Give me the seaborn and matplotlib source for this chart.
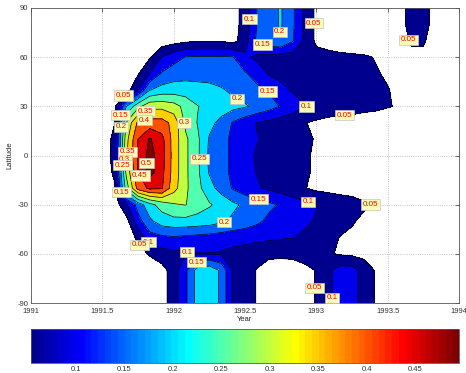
"""Stratospheric aerosol optical depth after Pinatubo: zonal-mean contour map.

Filled contour chart in the old MATLAB look (jet fills, labelled isolines,
horizontal colorbar underneath).
"""

import matplotlib

matplotlib.use("Agg")

import matplotlib.pyplot as plt
import numpy as np
import seaborn as sns
from matplotlib.cm import ScalarMappable
from matplotlib.colors import ListedColormap, Normalize


# monthly time axis (decimal year) and latitude rows
YEARS = [1991.5, 1991.583, 1991.667, 1991.75, 1991.833, 1991.917,
         1992.0, 1992.083, 1992.167, 1992.25, 1992.333, 1992.417,
         1992.5, 1992.583, 1992.667, 1992.75, 1992.833, 1992.917,
         1993.0, 1993.083, 1993.167, 1993.25, 1993.333, 1993.417,
         1993.5, 1993.583, 1993.667, 1993.75, 1993.833, 1993.917]
LATITUDES = [90, 80, 70, 60, 50, 40, 30, 20, 10, 0,
             -10, -20, -30, -40, -50, -60, -70, -80, -90]

# optical depth, one row per latitude (north to south), one value per month
AOD = [
    [0.02, 0.02, 0.02, 0.02, 0.02, 0.02, 0.02, 0.02, 0.02, 0.02, 0.02, 0.03, 0.07, 0.15, 0.18,
     0.205, 0.16, 0.09, 0.04, 0.02, 0.02, 0.02, 0.02, 0.02, 0.02, 0.03, 0.07, 0.07, 0.03, 0.02],
    [0.02, 0.02, 0.02, 0.02, 0.02, 0.02, 0.02, 0.02, 0.02, 0.02, 0.02, 0.03, 0.07, 0.15, 0.18,
     0.205, 0.16, 0.09, 0.04, 0.02, 0.02, 0.02, 0.02, 0.02, 0.02, 0.03, 0.07, 0.07, 0.03, 0.02],
    [0.02, 0.02, 0.02, 0.02, 0.02, 0.02, 0.03, 0.04, 0.045, 0.045, 0.045, 0.035, 0.075, 0.16, 0.18,
     0.198, 0.155, 0.09, 0.04, 0.03, 0.02, 0.02, 0.02, 0.02, 0.02, 0.03, 0.055, 0.055, 0.03, 0.02],
    [0.02, 0.02, 0.02, 0.02, 0.045, 0.102, 0.13, 0.152, 0.155, 0.155, 0.155, 0.152, 0.11, 0.09, 0.085,
     0.075, 0.075, 0.072, 0.068, 0.065, 0.062, 0.058, 0.055, 0.048, 0.04, 0.03, 0.04, 0.04, 0.02, 0.02],
    [0.02, 0.02, 0.02, 0.045, 0.102, 0.155, 0.175, 0.18, 0.18, 0.18, 0.175, 0.165, 0.155, 0.13, 0.095,
     0.085, 0.08, 0.075, 0.072, 0.07, 0.065, 0.062, 0.058, 0.053, 0.045, 0.035, 0.03, 0.025, 0.02, 0.02],
    [0.02, 0.02, 0.025, 0.098, 0.198, 0.22, 0.225, 0.225, 0.22, 0.215, 0.205, 0.19, 0.177, 0.162, 0.145,
     0.115, 0.095, 0.085, 0.08, 0.075, 0.07, 0.065, 0.06, 0.055, 0.052, 0.04, 0.03, 0.025, 0.02, 0.02],
    [0.01, 0.03, 0.198, 0.285, 0.335, 0.335, 0.32, 0.285, 0.252, 0.235, 0.225, 0.215, 0.205, 0.19, 0.17,
     0.147, 0.125, 0.102, 0.09, 0.08, 0.075, 0.07, 0.065, 0.06, 0.053, 0.045, 0.035, 0.03, 0.02, 0.02],
    [0.02, 0.048, 0.302, 0.41, 0.42, 0.42, 0.385, 0.29, 0.248, 0.215, 0.185, 0.145, 0.12, 0.098, 0.088,
     0.077, 0.065, 0.052, 0.042, 0.035, 0.03, 0.03, 0.025, 0.025, 0.02, 0.02, 0.02, 0.02, 0.02, 0.02],
    [0.03, 0.058, 0.33, 0.45, 0.505, 0.465, 0.38, 0.31, 0.26, 0.195, 0.165, 0.14, 0.12, 0.102, 0.092,
     0.082, 0.07, 0.058, 0.047, 0.04, 0.035, 0.03, 0.03, 0.025, 0.02, 0.02, 0.02, 0.02, 0.02, 0.02],
    [0.03, 0.06, 0.34, 0.455, 0.52, 0.47, 0.38, 0.31, 0.26, 0.19, 0.165, 0.14, 0.115, 0.095, 0.088,
     0.078, 0.065, 0.055, 0.045, 0.04, 0.035, 0.03, 0.03, 0.025, 0.02, 0.02, 0.02, 0.02, 0.02, 0.02],
    [0.03, 0.055, 0.31, 0.45, 0.52, 0.465, 0.38, 0.31, 0.26, 0.195, 0.165, 0.14, 0.118, 0.098, 0.09,
     0.08, 0.065, 0.055, 0.045, 0.04, 0.035, 0.03, 0.03, 0.025, 0.02, 0.02, 0.02, 0.02, 0.02, 0.02],
    [0.02, 0.045, 0.27, 0.42, 0.46, 0.455, 0.37, 0.31, 0.265, 0.22, 0.18, 0.145, 0.122, 0.105, 0.092,
     0.08, 0.065, 0.052, 0.04, 0.035, 0.03, 0.03, 0.025, 0.025, 0.02, 0.02, 0.02, 0.02, 0.02, 0.02],
    [0.01, 0.02, 0.09, 0.17, 0.235, 0.27, 0.295, 0.302, 0.275, 0.255, 0.235, 0.21, 0.19, 0.175, 0.16,
     0.145, 0.13, 0.115, 0.102, 0.09, 0.08, 0.07, 0.057, 0.045, 0.035, 0.03, 0.02, 0.02, 0.02, 0.02],
    [0.01, 0.01, 0.03, 0.13, 0.19, 0.225, 0.235, 0.235, 0.23, 0.225, 0.21, 0.19, 0.175, 0.16, 0.14,
     0.13, 0.12, 0.11, 0.095, 0.08, 0.07, 0.055, 0.04, 0.03, 0.02, 0.02, 0.02, 0.02, 0.02, 0.02],
    [0.02, 0.02, 0.02, 0.06, 0.13, 0.14, 0.145, 0.14, 0.135, 0.13, 0.125, 0.12, 0.12, 0.115, 0.11,
     0.105, 0.102, 0.09, 0.08, 0.065, 0.048, 0.04, 0.03, 0.02, 0.02, 0.02, 0.02, 0.02, 0.02, 0.02],
    [0.02, 0.02, 0.02, 0.03, 0.055, 0.08, 0.085, 0.095, 0.098, 0.098, 0.095, 0.085, 0.075, 0.065, 0.06,
     0.06, 0.06, 0.065, 0.065, 0.055, 0.045, 0.04, 0.035, 0.03, 0.02, 0.02, 0.02, 0.02, 0.02, 0.02],
    [0.02, 0.02, 0.02, 0.02, 0.02, 0.03, 0.075, 0.14, 0.22, 0.235, 0.19, 0.09, 0.07, 0.048, 0.03,
     0.025, 0.03, 0.04, 0.052, 0.09, 0.12, 0.12, 0.08, 0.045, 0.02, 0.02, 0.02, 0.02, 0.02, 0.02],
    [0.02, 0.02, 0.02, 0.02, 0.02, 0.03, 0.075, 0.14, 0.22, 0.235, 0.19, 0.09, 0.07, 0.048, 0.03,
     0.025, 0.03, 0.04, 0.052, 0.09, 0.12, 0.12, 0.08, 0.045, 0.02, 0.02, 0.02, 0.02, 0.02, 0.02],
    [0.02, 0.02, 0.02, 0.02, 0.02, 0.03, 0.075, 0.14, 0.22, 0.235, 0.19, 0.09, 0.07, 0.048, 0.03,
     0.025, 0.03, 0.04, 0.052, 0.09, 0.12, 0.12, 0.08, 0.045, 0.02, 0.02, 0.02, 0.02, 0.02, 0.02],
]

LEVELS = [0.05, 0.1, 0.15, 0.2, 0.25, 0.3, 0.35, 0.4, 0.45, 0.5]
CBAR_TICKS = [0.1, 0.15, 0.2, 0.25, 0.3, 0.35, 0.4, 0.45]
CBAR_LIMITS = (0.0535, 0.4955)

X_TICKS = [1991, 1991.5, 1992, 1992.5, 1993, 1993.5, 1994]
X_TICK_LABELS = ["1991", "1991.5", "1992", "1992.5", "1993", "1993.5", "1994"]
Y_TICKS = [-90, -60, -30, 0, 30, 60, 90]

# isoline labels: level and roughly where it sits (year, latitude)
LABEL_LEVELS = [0.1, 0.2, 0.15, 0.05, 0.05, 0.05, 0.15, 0.2,
                0.35, 0.4, 0.3, 0.2, 0.15, 0.1, 0.05, 0.35,
                0.3, 0.25, 0.5, 0.45, 0.25, 0.15, 0.2, 0.15,
                0.1, 0.05, 0.1, 0.05, 0.1, 0.15, 0.05, 0.1]
LABEL_YEARS = [1992.514, 1992.731, 1992.626, 1992.983, 1993.635, 1991.666, 1991.652, 1991.631,
               1991.813, 1991.799, 1992.058, 1992.444, 1992.626, 1992.941, 1993.200, 1991.687,
               1991.666, 1991.624, 1991.827, 1991.785, 1992.198, 1991.638, 1992.338, 1992.577,
               1992.941, 1993.432, 1991.813, 1991.729, 1992.093, 1992.170, 1992.794, 1993.116]
LABEL_LATS = [83.2, 75.3, 68.6, 80.8, 70.4, 35.7, 24.1, 17.4,
              25.3, 19.8, 19.8, 34.5, 36.3, 30.8, 24.7, 2.1,
              -2.5, -6.0, -4.6, -11.3, -2.1, -22.3, -36.3, -32.0,
              -28.4, -30.2, -53.4, -57.0, -58.2, -66.2, -80.8, -86.9]


def matlab_jet(n: int = 64) -> ListedColormap:
    """The classic MATLAB jet(n) table."""
    m = int(np.ceil(n / 4))
    u = np.concatenate([np.arange(1, m + 1) / m, np.ones(m - 1), np.arange(m, 0, -1) / m])
    g = int(np.ceil(m / 2)) - int(n % 4 == 1) + np.arange(1, len(u) + 1)
    table = np.zeros((n, 3))
    for channel, idx in ((0, g + m), (1, g), (2, g - m)):
        keep = (idx >= 1) & (idx <= n)
        table[idx[keep] - 1, channel] = u[keep]
    return ListedColormap(table, name="matlab_jet")


def label_isolines(ax, lines) -> None:
    """Put a boxed red label on the nearest point of the wanted isoline."""
    to_px = ax.transData
    to_data = ax.transData.inverted()
    for lv, year, lat in zip(LABEL_LEVELS, LABEL_YEARS, LABEL_LATS):
        i_level = LEVELS.index(lv)
        px, py = to_px.transform((year, lat))
        found = lines.find_nearest_contour(px, py, indices=[i_level], pixel=True)
        if found[0] is None:
            continue
        x, y = to_data.transform((found[3], found[4]))
        ax.text(x, y, f"{lv:g}", fontsize=5.8, color="red", ha="center", va="center",
                zorder=5,
                bbox=dict(facecolor="#fcfcb4", edgecolor="#c4c4c4", linewidth=0.5, pad=1.2))


def main() -> None:
    sns.set_style("white")
    plt.rcParams["font.family"] = ["Liberation Sans", "DejaVu Sans"]
    plt.rcParams["axes.unicode_minus"] = False

    cmap = matlab_jet(64)
    norm = Normalize(*CBAR_LIMITS)
    # MATLAB-style: each band takes the colour of its lower level
    fill_colors = [cmap(norm(lv)) for lv in LEVELS]

    grid_x, grid_y = np.meshgrid(np.array(YEARS), np.array(LATITUDES))
    values = np.array(AOD)

    fig = plt.figure(figsize=(4.66, 3.73), dpi=100)
    ax = fig.add_axes([31 / 466, 70 / 373, 428 / 466, 295 / 373])
    cax = fig.add_axes([31 / 466, 10 / 373, 428 / 466, 34 / 373])

    ax.set_xlim(1991, 1994)
    ax.set_ylim(-90, 90)
    ax.set_axisbelow(True)
    ax.grid(True, linestyle=":", color="#b4b4b4", linewidth=0.6)

    ax.contourf(grid_x, grid_y, values, levels=LEVELS + [1.0], colors=fill_colors)
    lines = ax.contour(grid_x, grid_y, values, levels=LEVELS, colors="k", linewidths=0.5)
    label_isolines(ax, lines)

    ax.set_xticks(X_TICKS)
    ax.set_xticklabels(X_TICK_LABELS)
    ax.set_yticks(Y_TICKS)
    ax.tick_params(direction="in", length=3, width=0.5, labelsize=5.5, pad=2,
                   top=True, right=True, colors="#333333")
    ax.tick_params(axis="x", pad=3.5)
    for spine in ax.spines.values():
        spine.set_color("#555555")
        spine.set_linewidth(0.6)
    ax.set_xlabel("Year", fontsize=5.5, labelpad=0.5)
    ax.set_ylabel("Latitude", fontsize=5.5, labelpad=3)

    cbar = fig.colorbar(ScalarMappable(norm=norm, cmap=cmap), cax=cax,
                        orientation="horizontal", ticks=CBAR_TICKS)
    cbar.ax.set_xticklabels([f"{t:g}" for t in CBAR_TICKS])
    cbar.ax.tick_params(direction="in", length=3, width=0.5, labelsize=5.5, pad=2,
                        top=True, bottom=True, colors="#333333")
    cbar.outline.set_edgecolor("#555555")
    cbar.outline.set_linewidth(0.6)

    fig.savefig("out.png", dpi=100)
    plt.close(fig)


if __name__ == "__main__":
    main()
